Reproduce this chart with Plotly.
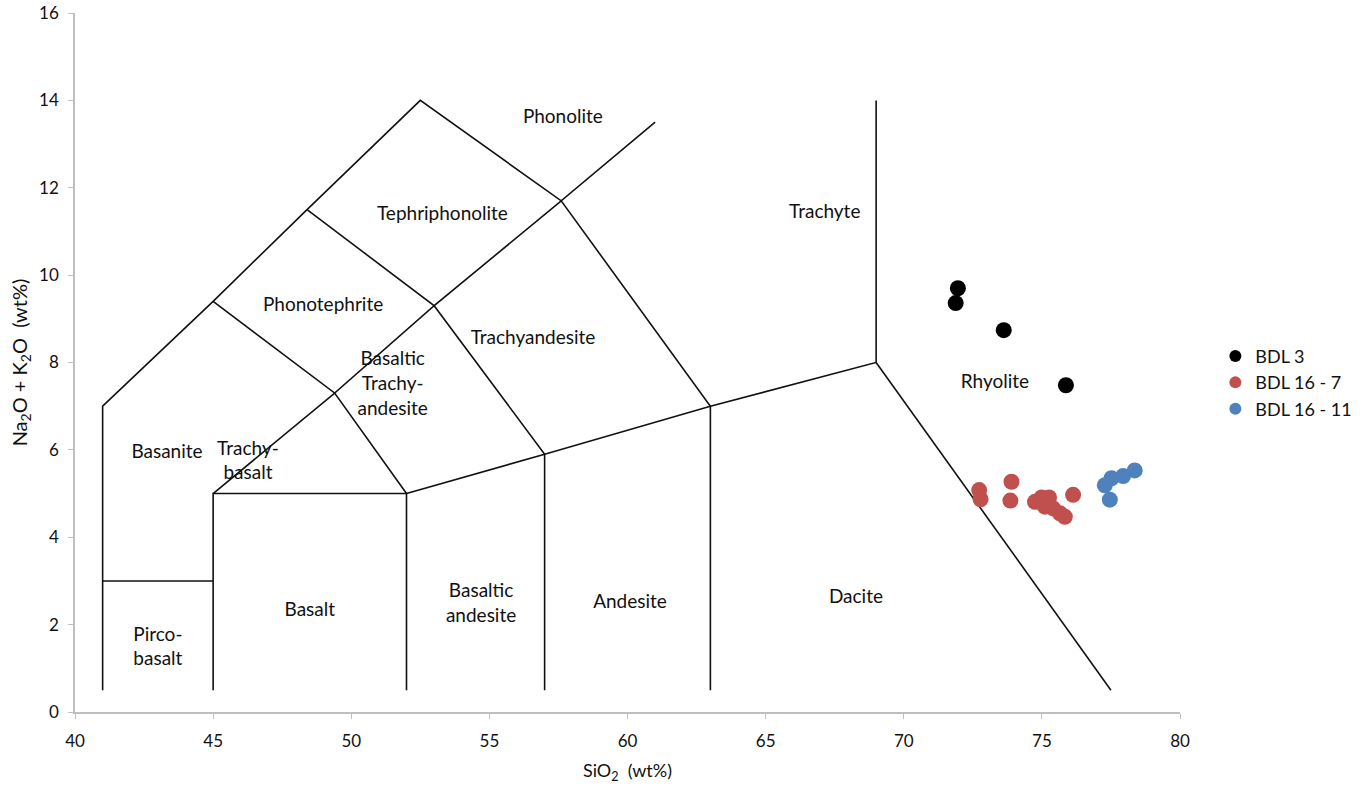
import plotly.graph_objects as go

# ---- data ----
bdl3_x = [71.96, 71.88, 73.62, 75.87]
bdl3_y = [9.70, 9.36, 8.74, 7.48]

bdl167_x = [72.73, 72.78, 73.90, 73.86, 74.75, 74.99, 75.26, 75.11, 75.41, 75.65, 75.83, 76.13]
bdl167_y = [5.08, 4.87, 5.27, 4.84, 4.81, 4.91, 4.91, 4.70, 4.66, 4.55, 4.47, 4.97]

bdl1611_x = [77.28, 77.52, 77.94, 78.36, 77.46]
bdl1611_y = [5.19, 5.35, 5.40, 5.53, 4.86]

# TAS field boundaries (polylines)
boundaries = [
    [(41, 0.5), (41, 7), (45, 9.4), (48.4, 11.5), (52.5, 14), (57.6, 11.7), (61, 13.5)],
    [(41, 3), (45, 3)],
    [(45, 0.5), (45, 5), (52, 5), (52, 0.5)],
    [(45, 5), (49.4, 7.3), (52, 5)],
    [(45, 9.4), (49.4, 7.3), (53, 9.3), (57, 5.9), (57, 0.5)],
    [(48.4, 11.5), (53, 9.3), (57.6, 11.7), (63, 7), (63, 0.5)],
    [(52, 5), (57, 5.9), (63, 7), (69, 8), (69, 14)],
    [(69, 8), (77.5, 0.5)],
]

field_names = ["Phonolite", "Tephriphonolite", "Phonotephrite", "Trachyandesite",
               "Basaltic<br>Trachy-<br>andesite", "Trachyte", "Rhyolite", "Basanite",
               "Trachy-<br>basalt", "Pirco-<br>basalt", "Basalt", "Basaltic<br>andesite",
               "Andesite", "Dacite"]
field_x = [57.66, 53.3, 48.98, 56.58, 51.5, 67.14, 73.3, 43.33, 46.26, 43.0, 48.5, 54.7, 60.09, 68.27]
field_y = [13.6, 11.37, 9.29, 8.54, 7.48, 11.42, 7.53, 5.93, 5.72, 1.46, 2.31, 2.45, 2.49, 2.61]

xticks = [40, 45, 50, 55, 60, 65, 70, 75, 80]
yticks = [0, 2, 4, 6, 8, 10, 12, 14, 16]

FONT = "Lato"

fig = go.Figure()

lx, ly = [], []
for seg in boundaries:
    for (a, b) in seg:
        lx.append(a)
        ly.append(b)
    lx.append(None)
    ly.append(None)
fig.add_trace(go.Scatter(x=lx, y=ly, mode="lines", line=dict(color="#111111", width=1.6),
                         showlegend=False, hoverinfo="skip"))

fig.add_trace(go.Scatter(x=bdl3_x, y=bdl3_y, mode="markers", name="BDL 3",
                         marker=dict(color="#000000", size=16)))
fig.add_trace(go.Scatter(x=bdl167_x, y=bdl167_y, mode="markers", name="BDL 16 - 7",
                         marker=dict(color="#C0504D", size=16)))
fig.add_trace(go.Scatter(x=bdl1611_x, y=bdl1611_y, mode="markers", name="BDL 16 - 11",
                         marker=dict(color="#4F81BD", size=16)))

fig.add_trace(go.Scatter(x=field_x, y=field_y, mode="text", text=field_names,
                         textposition="middle center",
                         textfont=dict(family=FONT, size=19, color="#111111"),
                         showlegend=False, hoverinfo="skip"))

fig.update_layout(
    width=1363, height=789,
    margin=dict(l=75, r=183, t=13, b=77, autoexpand=False),
    paper_bgcolor="white", plot_bgcolor="white",
    font=dict(family=FONT, size=16, color="#111111"),
    legend=dict(x=1.032, y=0.471, xanchor="left", yanchor="middle",
                font=dict(family=FONT, size=18, color="#111111"),
                itemsizing="constant", itemwidth=30, bgcolor="rgba(0,0,0,0)"),
    xaxis=dict(range=[40, 80], tickvals=xticks, showgrid=False, zeroline=False,
               automargin=False,
               showline=True, linecolor="#BFBFBF", linewidth=1.5,
               ticks="outside", ticklen=5, tickcolor="#BFBFBF",
               tickfont=dict(family=FONT, size=17, color="#111111"),
               ticklabelstandoff=8,
               title=dict(text="SiO<sub>2</sub>  (wt%)", font=dict(family=FONT, size=18), standoff=14)),
    yaxis=dict(range=[0, 16], tickvals=yticks, showgrid=False, zeroline=False,
               automargin=False,
               showline=True, linecolor="#BFBFBF", linewidth=1.5,
               ticks="outside", ticklen=5, tickcolor="#BFBFBF",
               tickfont=dict(family=FONT, size=17, color="#111111"),
               ticklabelstandoff=6,
               title=dict(text="Na<sub>2</sub>O + K<sub>2</sub>O  (wt%)", font=dict(family=FONT, size=20), standoff=6)),
)

fig.write_html("out.html", config={"displayModeBar": False},
               post_script="document.body.style.margin='0px';")
